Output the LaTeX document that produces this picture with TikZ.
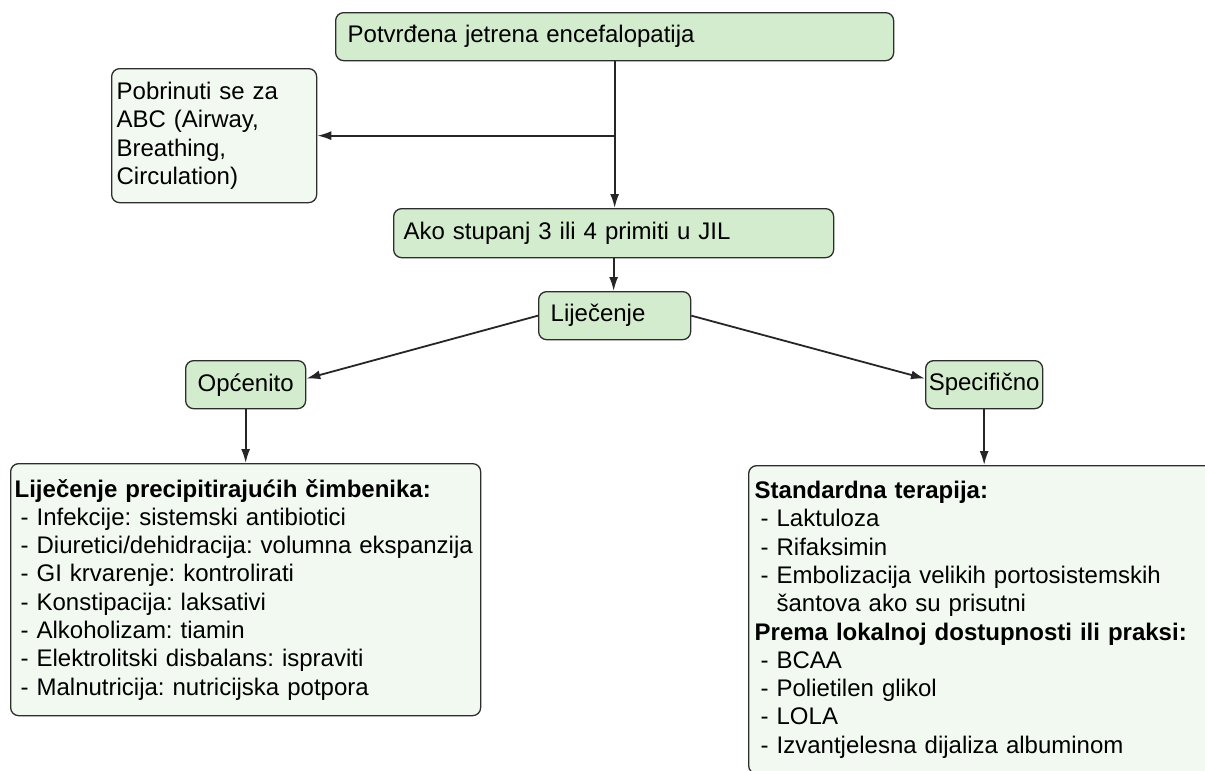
\documentclass[tikz,border=0pt]{standalone}
\usepackage{fontspec}
\setmainfont{Liberation Sans}
\usetikzlibrary{arrows.meta}
\definecolor{boxgreen}{RGB}{211,236,205}
\definecolor{palegreen}{RGB}{242,249,241}
\definecolor{edgegray}{RGB}{45,45,45}
\newcommand{\itm}{\hspace*{6pt}- }
\newcommand{\itmcont}{\hspace*{6pt}\hphantom{- }}
\frenchspacing

\begin{document}
\begin{tikzpicture}[x=1pt,y=-1pt,>={Latex[length=14pt,width=9pt]},
  box/.style={draw=edgegray,fill=boxgreen,rounded corners=8pt,line width=1.3pt,
    anchor=north west,align=left,inner ysep=0pt,font=\fontsize{24}{28.3}\selectfont},
  pale/.style={box,fill=palegreen},
  conn/.style={->,line width=1.8pt,draw=black!85}]
  \useasboundingbox (0,0) rectangle (1205,771);
  \node[box,text width=534pt,inner xsep=12pt,minimum height=48pt] (potv) at (335,12)
    {Potvrđena jetrena encefalopatija};
  \node[pale,text width=195pt,inner xsep=5pt,minimum height=134pt] (abc) at (111,68)
    {Pobrinuti se za\\ABC (Airway,\\Breathing,\\Circulation)};
  \node[box,text width=420pt,inner xsep=10pt,minimum height=49pt] (ako) at (393,208)
    {Ako stupanj 3 ili 4 primiti u JIL};
  \node[box,text width=128pt,inner xsep=12pt,minimum height=48pt] (lij) at (538,291)
    {Liječenje};
  \node[box,text width=112pt,inner xsep=4pt,minimum height=48pt,align=center] (opc) at (185,360)
    {Općenito};
  \node[box,text width=111pt,inner xsep=3pt,minimum height=48pt,align=center] (spe) at (925,360)
    {Specifično};
  \node[pale,text width=462pt,inner xsep=4pt,minimum height=252pt] (opclist) at (10,463)
    {\textbf{Liječenje precipitirajućih čimbenika:}\\
     \itm Infekcije: sistemski antibiotici\\
     \itm Diuretici/dehidracija: volumna ekspanzija\\
     \itm GI krvarenje: kontrolirati\\
     \itm Konstipacija: laksativi\\
     \itm Alkoholizam: tiamin\\
     \itm Elektrolitski disbalans: ispraviti\\
     \itm Malnutricija: nutricijska potpora};
  \node[pale,text width=472pt,inner xsep=6pt,minimum height=308pt] (spelist) at (748,465)
    {\textbf{Standardna terapija:}\\
     \itm Laktuloza\\
     \itm Rifaksimin\\
     \itm Embolizacija velikih portosistemskih\\
     \itmcont šantova ako su prisutni\\
     \textbf{Prema lokalnoj dostupnosti ili praksi:}\\
     \itm BCAA\\
     \itm Polietilen glikol\\
     \itm LOLA\\
     \itm Izvantjelesna dijaliza albuminom};
  \coordinate (fork) at (potv.south |- abc.east);
  \draw[conn] (potv.south) -- (potv.south |- ako.north);
  \draw[conn] (fork) -- (abc.east);
  \draw[conn] (ako.south) -- (ako.south |- lij.north);
  \draw[conn] (lij.west) -- ([yshift=6pt]opc.east);
  \draw[conn] (lij.east) -- ([yshift=6pt]spe.west);
  \draw[conn] (opc.south) -- (opc.south |- opclist.north);
  \draw[conn] (spe.south) -- (spe.south |- spelist.north);
\end{tikzpicture}
\end{document}
